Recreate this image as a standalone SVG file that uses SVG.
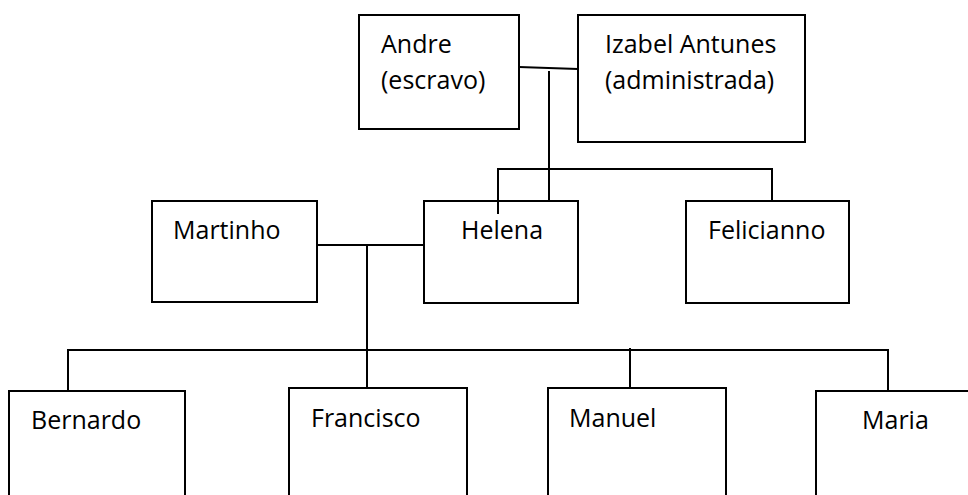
<svg xmlns="http://www.w3.org/2000/svg" width="968" height="495" viewBox="0 0 968 495">
<style>
.box{fill:#fff;stroke:#000;stroke-width:2}
.ln{fill:none;stroke:#000;stroke-width:2}
.t{font-family:"Open Sans","Liberation Sans",sans-serif;font-size:25px;fill:#000}
</style>
<rect width="968" height="495" fill="#fff"/>
<g id="andre"><rect class="box" x="359" y="15" width="160" height="114"/><text class="t" x="381" y="53">Andre</text><text class="t" x="381" y="89">(escravo)</text></g>
<g id="izabel"><rect class="box" x="578" y="15" width="227" height="127"/><text class="t" x="605" y="53">Izabel Antunes</text><text class="t" x="605" y="89">(administrada)</text></g>
<g id="martinho"><rect class="box" x="152" y="201" width="165" height="101"/><text class="t" x="173" y="239">Martinho</text></g>
<g id="helena"><rect class="box" x="424" y="201" width="154" height="102"/><text class="t" x="461" y="239">Helena</text></g>
<g id="felicianno"><rect class="box" x="686" y="201" width="163" height="102"/><text class="t" x="708" y="239">Felicianno</text></g>
<g id="bernardo"><rect class="box" x="9" y="391" width="176" height="130"/><text class="t" x="31" y="429">Bernardo</text></g>
<g id="francisco"><rect class="box" x="289" y="388" width="178" height="130"/><text class="t" x="311" y="427">Francisco</text></g>
<g id="manuel"><rect class="box" x="548" y="388" width="178" height="130"/><text class="t" x="569" y="427">Manuel</text></g>
<g id="maria"><rect class="box" x="816" y="391" width="180" height="130"/><text class="t" x="862" y="429">Maria</text></g>
<g id="connectors">
<path class="ln" d="M519 67 L578 69"/>
<path class="ln" d="M549 71 V201"/>
<path class="ln" d="M498 214 V169 H772 V201"/>
<path class="ln" d="M317 245 H424"/>
<path class="ln" d="M367 245 V388"/>
<path class="ln" d="M68 391 V350 H888 V391"/>
<path class="ln" d="M630 348 V388"/>
</g>
</svg>
